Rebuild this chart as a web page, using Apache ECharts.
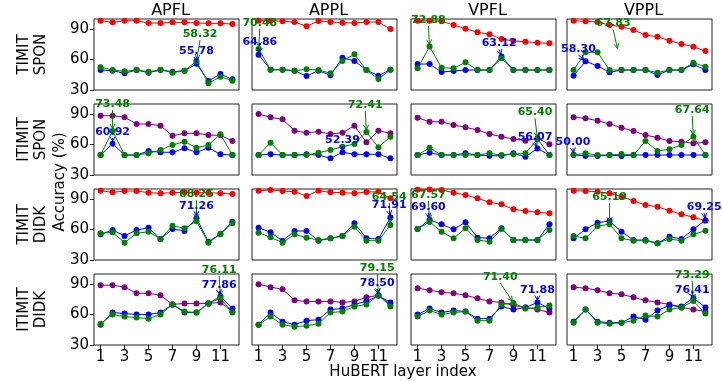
<!DOCTYPE html>
<html>
<head>
<meta charset="utf-8">
<script src="https://cdn.jsdelivr.net/npm/echarts@6/dist/echarts.min.js"></script>
<style>
  html, body { margin: 0; padding: 0; background: #fff; }
  #chart { width: 722px; height: 381px; }
</style>
</head>
<body>
<div id="chart"></div>
<script>
const layers = [1, 2, 3, 4, 5, 6, 7, 8, 9, 10, 11, 12];
const methods = ['APFL', 'APPL', 'VPFL', 'VPPL'];
const rowNames = ['TIMIT\nSPON', 'ITIMIT\nSPON', 'TIMIT\nDIDK', 'ITIMIT\nDIDK'];
const xTicks = [1, 3, 5, 7, 9, 11];
const yTicks = [30, 60, 90];

// TIMIT SPON (red / blue / green), one array per method
const redTimitSpon = [
  [98.3, 96.7, 98.3, 98.3, 96.0, 96.0, 96.7, 96.7, 96.0, 95.7, 95.7, 95.0],
  [98.3, 98.3, 97.7, 97.0, 92.8, 98.0, 97.0, 96.4, 96.0, 97.0, 97.0, 90.1],
  [98.3, 98.3, 97.7, 94.1, 90.4, 86.9, 84.9, 80.3, 78.3, 77.6, 76.6, 76.0],
  [98.3, 97.7, 97.0, 94.1, 92.4, 89.2, 84.2, 82.5, 78.6, 75.4, 72.7, 68.4]
];
const blueTimitSpon = [
  [49.7, 49.0, 46.5, 49.7, 47.1, 49.7, 48.0, 49.0, 55.78, 38.9, 45.8, 40.5],
  [64.86, 50.0, 50.0, 49.0, 43.8, 49.0, 44.5, 61.8, 58.6, 49.7, 44.1, 50.0],
  [55.6, 55.6, 47.7, 48.7, 49.7, 49.7, 49.7, 63.12, 49.7, 49.7, 49.7, 49.7],
  [44.1, 58.3, 53.7, 47.4, 49.7, 49.7, 49.7, 44.8, 49.7, 49.7, 55.3, 49.7]
];
const greenTimitSpon = [
  [52.4, 49.7, 48.4, 49.7, 48.0, 50.0, 47.1, 49.0, 58.32, 36.6, 43.1, 39.2],
  [70.48, 50.0, 50.0, 49.0, 50.4, 49.7, 46.5, 58.6, 65.2, 49.7, 40.8, 50.0],
  [51.4, 72.88, 52.0, 51.4, 57.3, 49.7, 49.7, 61.2, 49.7, 49.7, 49.7, 49.7],
  [49.7, 67.2, 67.2, 49.7, 49.7, 49.7, 49.7, 47.1, 49.7, 49.7, 56.9, 53.0]
];

// ITIMIT SPON (purple / blue / green)
const purpleItimitSpon = [
  [88.5, 88.5, 86.9, 80.3, 80.3, 78.6, 68.7, 71.1, 71.1, 69.4, 69.1, 63.5],
  [90.1, 86.9, 84.9, 73.7, 71.7, 72.7, 70.4, 71.7, 78.6, 62.2, 73.7, 71.1],
  [86.5, 82.5, 82.5, 79.3, 77.0, 74.4, 70.4, 67.8, 65.5, 63.8, 66.2, 60.3],
  [86.9, 85.9, 83.5, 80.3, 76.6, 73.4, 69.4, 66.8, 63.5, 62.8, 61.2, 62.2]
];
const blueItimitSpon = [
  [49.7, 60.92, 49.7, 49.7, 53.7, 52.4, 52.4, 56.3, 52.4, 56.9, 50.4, 49.7],
  [49.7, 50.4, 49.7, 49.7, 50.4, 49.7, 46.5, 52.39, 50.4, 50.4, 50.4, 46.5],
  [49.7, 52.0, 49.7, 49.7, 51.4, 49.7, 49.0, 49.0, 51.4, 48.0, 56.07, 49.7],
  [50.0, 48.7, 48.7, 49.7, 48.7, 49.7, 49.7, 49.7, 49.7, 49.7, 49.7, 49.7]
];
const greenItimitSpon = [
  [49.7, 73.48, 49.7, 49.7, 51.4, 54.6, 59.6, 62.8, 56.9, 59.6, 70.1, 49.7],
  [49.7, 61.8, 49.7, 49.7, 49.7, 52.0, 54.6, 57.9, 60.6, 72.41, 57.3, 67.8],
  [49.7, 56.9, 49.7, 49.7, 49.7, 49.7, 51.4, 49.7, 50.4, 51.4, 65.4, 49.7],
  [49.7, 51.4, 49.7, 49.7, 50.7, 49.7, 63.5, 53.7, 55.3, 59.6, 67.64, 49.7]
];

// TIMIT DIDK (red / blue / green)
const redTimitDidk = [
  [98.3, 96.7, 98.0, 98.0, 96.4, 95.8, 96.4, 96.7, 96.4, 96.4, 95.8, 95.1],
  [98.3, 99.0, 98.0, 97.3, 93.1, 98.3, 96.7, 96.4, 95.8, 97.0, 97.3, 90.8],
  [99.3, 99.5, 99.0, 96.4, 94.1, 90.8, 86.9, 84.9, 80.0, 78.3, 77.0, 76.0],
  [98.3, 98.0, 97.3, 95.8, 92.4, 88.2, 84.2, 82.5, 78.6, 75.1, 72.1, 68.7]
];
const blueTimitDidk = [
  [55.3, 59.6, 53.7, 59.6, 61.8, 50.7, 60.6, 58.6, 71.26, 48.0, 55.6, 67.8],
  [61.8, 57.3, 49.0, 58.6, 58.6, 49.0, 51.4, 53.7, 66.2, 51.4, 50.7, 71.91],
  [60.6, 69.6, 65.2, 60.3, 67.2, 52.0, 51.4, 61.2, 49.7, 49.7, 49.7, 65.2],
  [51.4, 60.3, 66.8, 68.4, 57.9, 49.7, 49.7, 46.5, 53.0, 50.7, 60.3, 69.25]
];
const greenTimitDidk = [
  [56.3, 57.3, 47.1, 56.3, 57.9, 50.7, 63.8, 61.2, 68.25, 47.1, 55.6, 66.2],
  [56.9, 52.4, 47.1, 55.3, 52.0, 49.7, 51.4, 53.7, 62.8, 49.0, 49.0, 64.54],
  [60.6, 67.57, 57.9, 51.4, 61.2, 49.7, 48.0, 60.6, 49.7, 49.7, 49.7, 59.6],
  [53.7, 51.4, 63.5, 65.19, 51.4, 49.0, 49.0, 46.5, 50.7, 49.0, 55.3, 58.9]
];

// ITIMIT DIDK (purple / blue / green)
const purpleItimitDidk = [
  [89.0, 89.0, 87.0, 81.0, 81.0, 79.0, 70.0, 71.0, 71.0, 71.0, 72.0, 63.0],
  [90.0, 87.0, 85.0, 74.0, 73.0, 73.0, 73.0, 72.0, 73.0, 77.0, 79.0, 70.0],
  [86.0, 84.0, 82.0, 81.0, 79.0, 76.0, 73.0, 72.0, 69.0, 67.0, 65.0, 62.0],
  [87.0, 86.0, 84.0, 81.0, 80.0, 77.0, 74.0, 72.0, 70.0, 67.0, 65.0, 63.0]
];
const blueItimitDidk = [
  [50.0, 62.0, 61.0, 60.0, 60.0, 62.0, 70.0, 62.0, 62.0, 71.0, 77.86, 66.0],
  [50.0, 62.0, 53.0, 50.0, 54.0, 55.0, 65.0, 66.0, 70.0, 73.0, 78.5, 72.0],
  [60.0, 66.0, 62.0, 64.0, 63.0, 56.0, 56.0, 68.0, 65.0, 67.0, 71.88, 66.0],
  [53.0, 65.0, 53.0, 52.0, 52.0, 58.0, 55.0, 64.0, 69.0, 68.0, 76.41, 67.0]
];
const greenItimitDidk = [
  [51.0, 60.0, 58.0, 57.0, 56.0, 60.0, 70.0, 63.0, 62.0, 71.0, 76.11, 62.0],
  [50.0, 58.0, 50.0, 48.0, 49.0, 51.0, 62.0, 63.0, 68.0, 70.0, 79.15, 68.0],
  [58.0, 64.0, 60.0, 62.0, 63.0, 54.0, 54.0, 70.0, 71.4, 66.0, 67.0, 69.0],
  [52.0, 65.0, 52.0, 51.0, 52.0, 54.0, 59.0, 58.0, 65.0, 67.0, 73.29, 61.0]
];

const rows = [
  { colors: ['#ff0000', '#0000ff', '#008000'], sets: [redTimitSpon, blueTimitSpon, greenTimitSpon] },
  { colors: ['#800080', '#0000ff', '#008000'], sets: [purpleItimitSpon, blueItimitSpon, greenItimitSpon] },
  { colors: ['#ff0000', '#0000ff', '#008000'], sets: [redTimitDidk, blueTimitDidk, greenTimitDidk] },
  { colors: ['#800080', '#0000ff', '#008000'], sets: [purpleItimitDidk, blueItimitDidk, greenItimitDidk] }
];

// annotations: [row, col, series (1 blue, 2 green), label, text x, text y, target layer, target y override]
const notes = [
  [0, 0, 2, '58.32', 9.3, 85.2, 9], [0, 0, 1, '55.78', 9.0, 68.4, 9],
  [0, 1, 2, '70.48', 1.1, 96.4, 1], [0, 1, 1, '64.86', 1.1, 77.0, 1],
  [0, 2, 2, '72.88', 1.9, 99.0, 2], [0, 2, 1, '63.12', 7.8, 76.0, 8],
  [0, 3, 2, '67.83', 4.3, 95.5, 4.7, 69.0], [0, 3, 1, '58.30', 1.4, 70.4, 2],
  [1, 0, 2, '73.48', 2.0, 100.0, 2], [1, 0, 1, '60.92', 2.0, 72.7, 2],
  [1, 1, 2, '72.41', 9.9, 99.0, 10], [1, 1, 1, '52.39', 8.0, 64.5, 8],
  [1, 2, 2, '65.40', 10.8, 91.8, 11], [1, 2, 1, '56.07', 10.8, 67.8, 11],
  [1, 3, 2, '67.64', 10.9, 94.1, 11], [1, 3, 1, '50.00', 0.95, 62.2, 1],
  [2, 0, 2, '68.25', 9.0, 94.8, 9], [2, 0, 1, '71.26', 9.0, 83.5, 9],
  [2, 1, 2, '64.54', 11.9, 92.4, 12], [2, 1, 1, '71.91', 11.9, 84.2, 12],
  [2, 2, 2, '67.57', 1.9, 94.1, 2], [2, 2, 1, '69.60', 1.9, 82.5, 2],
  [2, 3, 2, '65.19', 4.0, 91.8, 4], [2, 3, 1, '69.25', 11.9, 82.0, 12],
  [3, 0, 2, '76.11', 10.9, 103.9, 11], [3, 0, 1, '77.86', 10.9, 89.2, 11],
  [3, 1, 2, '79.15', 10.9, 105.9, 11], [3, 1, 1, '78.50', 10.9, 91.1, 11],
  [3, 2, 2, '71.40', 7.9, 97.0, 9], [3, 2, 1, '71.88', 11.0, 84.0, 11],
  [3, 3, 2, '73.29', 10.9, 99.0, 11], [3, 3, 1, '76.41', 10.9, 84.2, 11]
];

const FONT = 'DejaVu Sans';
const colLeft = [94, 252, 411, 567];
const rowTop = [19, 104, 189, 274];
const panelW = 145;
const panelH = 71;

const chart = echarts.init(document.getElementById('chart'));

const grid = [], xAxis = [], yAxis = [], series = [];
rows.forEach((row, r) => {
  methods.forEach((m, c) => {
    const idx = r * 4 + c;
    grid.push({
      left: colLeft[c], top: rowTop[r], width: panelW, height: panelH,
      show: true, borderColor: '#222', borderWidth: 1, backgroundColor: 'transparent'
    });
    xAxis.push({
      gridIndex: idx, type: 'value', min: 0.45, max: 12.55,
      axisLine: { show: false }, splitLine: { show: false },
      axisTick: { show: r === 3, customValues: xTicks, length: 4, lineStyle: { color: '#222' } },
      axisLabel: { show: r === 3, customValues: xTicks, fontSize: 15, color: '#000', fontFamily: FONT, margin: 5 }
    });
    yAxis.push({
      gridIndex: idx, type: 'value', min: 30, max: 100,
      axisLine: { show: false }, splitLine: { show: false },
      axisTick: { show: c === 0, customValues: yTicks, length: 4, lineStyle: { color: '#222' } },
      axisLabel: { show: c === 0, customValues: yTicks, fontSize: 15, color: '#000', fontFamily: FONT, margin: 5 }
    });
    row.sets.forEach((set, s) => {
      const vals = set[c];
      const color = row.colors[s];
      series.push({
        type: 'line', xAxisIndex: idx, yAxisIndex: idx, clip: false,
        data: layers.map((l, k) => [l, vals[k]]),
        symbol: 'circle', symbolSize: 6, showSymbol: true,
        lineStyle: { width: 1, color: color },
        itemStyle: { color: color },
        z: 2 + s
      });
    });
  });
});

const graphic = [];
methods.forEach((m, c) => {
  graphic.push({
    type: 'text', x: colLeft[c] + panelW / 2 + 4, y: 11,
    style: { text: m, font: '16px ' + FONT, fill: '#000', align: 'center', verticalAlign: 'middle' }
  });
});
rowNames.forEach((name, r) => {
  graphic.push({
    type: 'text', x: 33, y: rowTop[r] + panelH / 2, rotation: Math.PI / 2,
    style: { text: name, font: '15px ' + FONT, fill: '#000', align: 'center', verticalAlign: 'middle', lineHeight: 17 }
  });
});
graphic.push({
  type: 'text', x: 60, y: 182, rotation: Math.PI / 2,
  style: { text: 'Accuracy (%)', font: '15px ' + FONT, fill: '#000', align: 'center', verticalAlign: 'middle' }
});
graphic.push({
  type: 'text', x: 403, y: 372,
  style: { text: 'HuBERT layer index', font: '15px ' + FONT, fill: '#000', align: 'center', verticalAlign: 'middle' }
});

chart.setOption({
  animation: false,
  backgroundColor: '#fff',
  textStyle: { fontFamily: FONT },
  grid, xAxis, yAxis, series, graphic
});

// annotation texts + arrows, placed through each panel's own scales
const extra = [];
notes.forEach(n => {
  const [r, c, s, label, tx, ty, layer, yOverride] = n;
  const gi = r * 4 + c;
  const color = rows[r].colors[s];
  const vals = rows[r].sets[s][c];
  const targetY = yOverride !== undefined ? yOverride : vals[layer - 1];
  const t = chart.convertToPixel({ gridIndex: gi }, [tx, ty]);
  const p = chart.convertToPixel({ gridIndex: gi }, [layer, targetY]);
  const down = p[1] > t[1];
  const start = [t[0], t[1] + (down ? 6 : -6)];
  const dx = p[0] - start[0], dy = p[1] - start[1];
  const len = Math.sqrt(dx * dx + dy * dy) || 1;
  const ux = dx / len, uy = dy / len;
  const end = [p[0] - ux * 2, p[1] - uy * 2];
  const hl = 5, hw = 2.5;
  const base = [end[0] - ux * hl, end[1] - uy * hl];
  extra.push({
    type: 'line', z: 50, silent: true,
    shape: { x1: start[0], y1: start[1], x2: end[0], y2: end[1] },
    style: { stroke: color, lineWidth: 1 }
  });
  extra.push({
    type: 'polyline', z: 50, silent: true,
    shape: { points: [[base[0] - uy * hw, base[1] + ux * hw], end, [base[0] + uy * hw, base[1] - ux * hw]] },
    style: { stroke: color, lineWidth: 1, fill: null }
  });
  extra.push({
    type: 'text', z: 60, silent: true, x: t[0], y: t[1],
    style: { text: label, font: 'bold 11px ' + FONT, fill: color, align: 'center', verticalAlign: 'middle' }
  });
});
chart.setOption({ graphic: graphic.concat(extra) });
</script>
</body>
</html>
